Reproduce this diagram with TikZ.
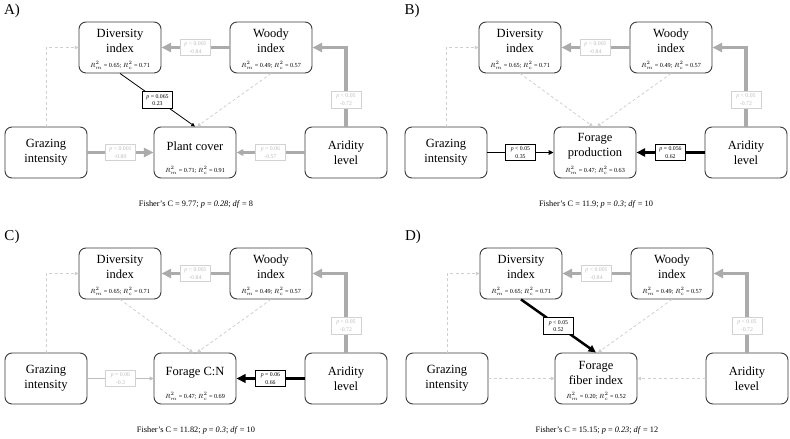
\documentclass[tikz,border=0pt]{standalone}
\usepackage{fontspec}
\setmainfont{Liberation Serif}
\usepackage{xcolor}
\usepackage{tikz}
\usetikzlibrary{positioning}
\usetikzlibrary{calc,arrows.meta}

\definecolor{boxline}{HTML}{3A3A3A}
\definecolor{pathgray}{HTML}{ABABAB}
\definecolor{nsgray}{HTML}{BDBDBD}
\definecolor{nsframe}{HTML}{D2D2D2}
\definecolor{dashgray}{HTML}{CFCFCF}

\newcommand{\rsq}[2]{$R^2_m$ = #1; $R^2_c$ = #2}

\tikzset{
  varbox/.style={draw=boxline, line width=0.9pt, rounded corners=7pt, minimum width=82pt, minimum height=51pt, inner sep=0pt},
  boxtitle/.style={align=center, font=\fontsize{12.5}{15}\selectfont},
  rsqtext/.style={font=\fontsize{6.2}{7}\selectfont, inner sep=0pt},
  slab/.style={draw=black, line width=0.7pt, fill=white, text=black, align=center, font=\fontsize{5.8}{7.5}\selectfont, inner sep=2.5pt, minimum width=30pt},
  nslab/.style={slab, draw=nsframe, text=nsgray},
  gline/.style={->, draw=pathgray, line width=3.5pt},
  bline/.style={->, draw=black},
  dline/.style={->, draw=dashgray, line width=0.8pt, dash pattern=on 3pt off 2.5pt},
  panlab/.style={font=\fontsize{15}{15}\selectfont, inner sep=0pt},
  fisher/.style={font=\fontsize{8.3}{10}\selectfont, inner sep=0pt}
}

\begin{document}
\begin{tikzpicture}[x=1pt, y=-1pt, >={Triangle[length=2pt 2.2,width=2pt 2]}]
  \useasboundingbox (0,0) rectangle (790,439);

  % Boxes and paths that every panel has
  \foreach \p/\dx/\dy/\outc/\rmv/\rcv/\fc/\fp/\fdf in {
      A/0/0/{Plant cover}/0.71/0.91/9.77/0.28/8,
      B/400/0/{Forage\\production}/0.47/0.63/11.9/0.3/10,
      C/0/226/{Forage C:N}/0.47/0.69/11.82/0.3/10,
      D/401/226/{Forage\\fiber index}/0.20/0.52/15.15/0.23/12} {
    \begin{scope}[shift={(\dx,\dy)}]
      \node[panlab] (\p-lab) at (12,11) {\p)};

      \node[varbox] (\p-div) at (120,47.5) {};
      \node[boxtitle] (\p-divt) at ([yshift=7pt]\p-div.center) {Diversity\\index};
      \node[rsqtext] (\p-divr) at ([yshift=8pt]\p-div.south) {\rsq{0.65}{0.71}};

      \node[varbox] (\p-woody) at (271,47.5) {};
      \node[boxtitle] (\p-woodyt) at ([yshift=7pt]\p-woody.center) {Woody\\index};
      \node[rsqtext] (\p-woodyr) at ([yshift=8pt]\p-woody.south) {\rsq{0.49}{0.57}};

      \node[varbox, boxtitle] (\p-graz) at (46,152.5) {Grazing\\intensity};
      \node[varbox, boxtitle] (\p-ari) at (346,152.5) {Aridity\\level};

      \node[varbox] (\p-out) at (195,152.5) {};
      \node[boxtitle] (\p-outt) at ([yshift=6pt]\p-out.center) {\outc};
      \node[rsqtext] (\p-outr) at ([yshift=8pt]\p-out.south) {\rsq{\rmv}{\rcv}};

      \node[fisher] (\p-fish) at (196,204) {Fisher’s C = \fc; \textit{p} = \textit{\fp}; \textit{df} = \fdf};

      \draw[gline] (\p-woody.west) -- node[nslab] {\textit{p} < 0.001\\-0.84} (\p-div.east);
      \draw[gline] (\p-ari.north) |- node[nslab, pos=0.17] {\textit{p} < 0.05\\-0.72} (\p-woody.east);
      \draw[dline] (\p-graz.north) |- (\p-div.west);
      \draw[dline] (\p-woody.south) -- ([xshift=2pt]\p-out.north);
    \end{scope}
  }

  % A) plant cover
  \draw[bline, line width=0.8pt] (A-div.south) -- node[slab] {\textit{p} = 0.065\\0.23} (A-out.north);
  \draw[gline] (A-graz) -- node[nslab] {\textit{p} < 0.001\\-0.80} (A-out);
  \draw[gline, line width=2.2pt] (A-ari) -- node[nslab] {\textit{p} = 0.06\\-0.57} (A-out);

  % B) forage production
  \draw[dline] (B-div.south) -- ([xshift=-2pt]B-out.north);
  \draw[bline, line width=1.3pt] (B-graz) -- node[slab] {\textit{p} < 0.05\\0.35} (B-out);
  \draw[bline, line width=3pt] (B-ari) -- node[slab] {\textit{p} = 0.056\\0.62} (B-out);

  % C) forage C:N
  \draw[dline] (C-div.south) -- ([xshift=-2pt]C-out.north);
  \draw[gline, line width=0.9pt, draw=nsgray] (C-graz) -- node[nslab] {\textit{p} = 0.06\\-0.3} (C-out);
  \draw[bline, line width=3.3pt] (C-ari) -- node[slab] {\textit{p} = 0.06\\0.66} (C-out);

  % D) forage fiber index
  \draw[bline, line width=2.5pt] (D-div.south) -- node[slab] {\textit{p} < 0.05\\0.52} (D-out.north);
  \draw[dline] (D-graz) -- (D-out);
  \draw[dline] (D-ari) -- (D-out);
\end{tikzpicture}
\end{document}
